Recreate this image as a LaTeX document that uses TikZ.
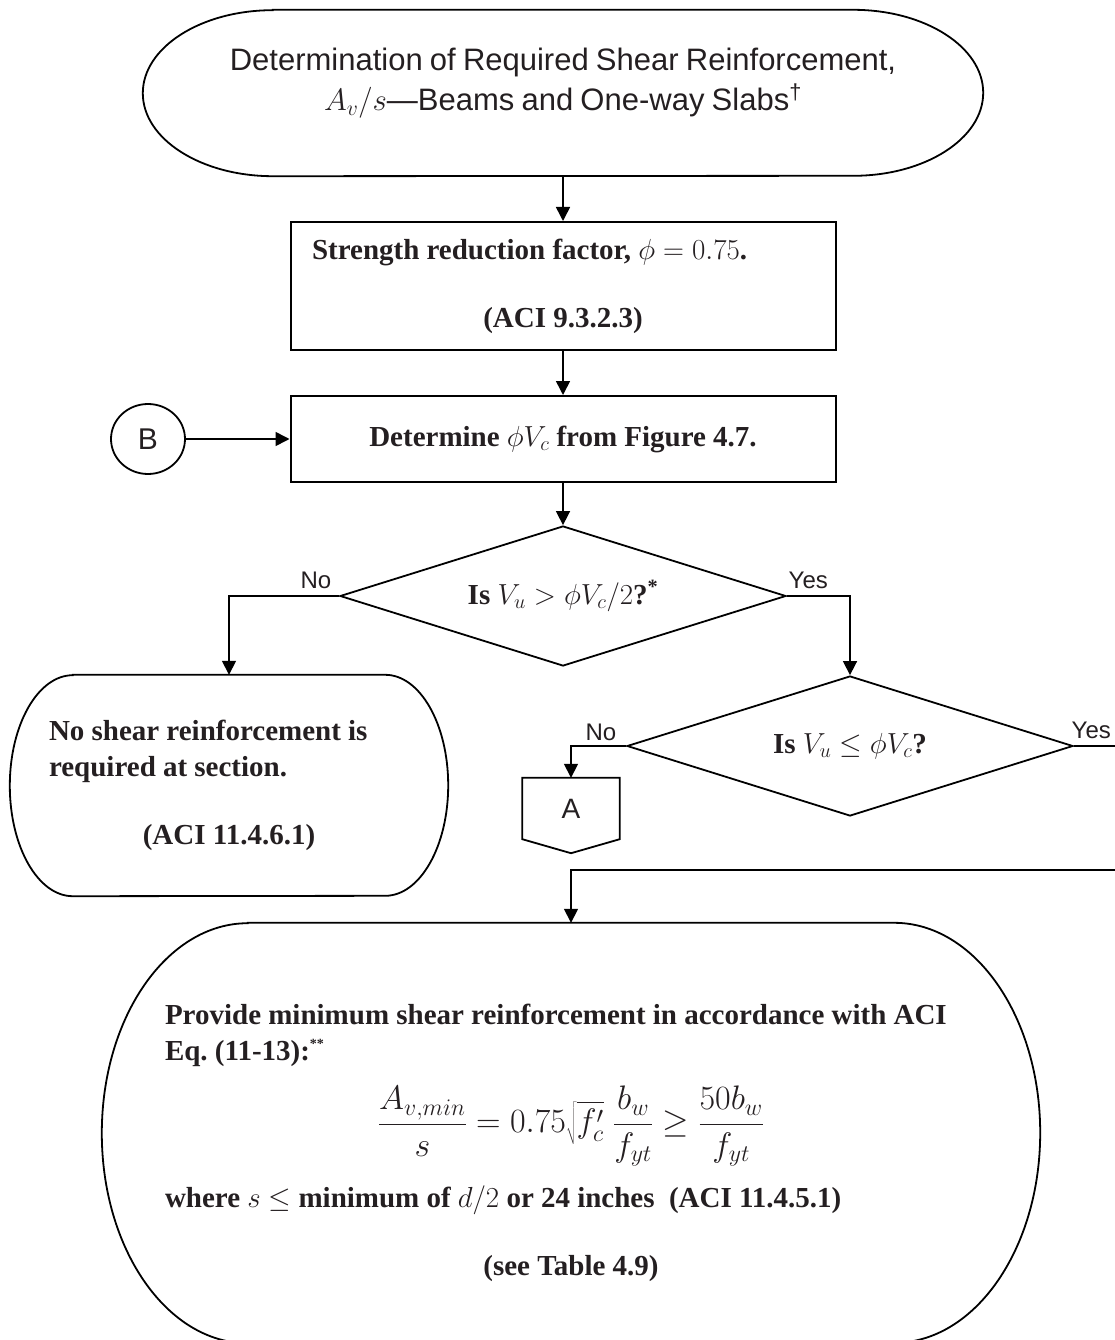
\RequirePackage{fix-cm}
\documentclass[tikz,border=0pt]{standalone}
\usepackage{fontspec}
\setmainfont{Liberation Serif}
\setsansfont{Liberation Sans}
\usetikzlibrary{positioning,arrows.meta,shapes.geometric}
\definecolor{inkcolor}{rgb}{0.14,0.12,0.13}
\tikzset{
  box/.style={draw, line width=2pt, minimum width=545pt, inner sep=0pt, font=\fontsize{29}{35}\selectfont\bfseries, text=inkcolor,
    execute at begin node={\frenchspacing\spaceskip=7.2pt\relax}},
  term/.style={inner sep=0pt, font=\fontsize{29}{36}\selectfont\bfseries, text=inkcolor,
    execute at begin node={\frenchspacing\spaceskip=7.2pt\relax}},
  outline/.style={line width=1.8pt},
  dec/.style={draw, diamond, aspect=3.2, line width=1.8pt, minimum width=446pt, minimum height=140pt, inner sep=0pt, font=\fontsize{29}{35}\selectfont\bfseries, text=inkcolor},
  conn/.style={draw, ellipse, line width=1.8pt, minimum width=74pt, minimum height=70pt, inner sep=0pt, font=\sffamily\fontsize{30}{36}\selectfont, text=inkcolor},
  offpg/.style={minimum width=97pt, minimum height=61pt, inner sep=0pt, font=\sffamily\fontsize{28}{34}\selectfont, text=inkcolor},
  lbl/.style={inner sep=0pt, font=\sffamily\fontsize{24}{28}\selectfont, text=inkcolor},
  flow/.style={-{Triangle[length=14pt,width=14pt]}, line width=1.6pt},
}
\newcommand\termpath[3]{\draw[outline] ([xshift=#2pt]#1.north west) -- ([xshift=-#2pt]#1.north east)
  arc[start angle=90, end angle=-90, x radius=#2pt, y radius=#3pt] -- ([xshift=#2pt]#1.south west)
  arc[start angle=270, end angle=90, x radius=#2pt, y radius=#3pt] -- cycle;}
\newcommand\midline[1]{\makebox[\hsize]{#1}}

\begin{document}
\begin{tikzpicture}[x=1pt, y=1pt]
\useasboundingbox (0,0) rectangle (1115,-1340);
\node[term, minimum width=840pt, minimum height=166pt, align=center, font=\sffamily\fontsize{31}{40}\selectfont\mdseries] (title) at (563,-93)
  {Determination of Required Shear Reinforcement,\\ $A_v/s$---Beams and One-way Slabs\textsuperscript{†}\rule[-27pt]{0pt}{27pt}};
\termpath{title}{130}{83}
\node[box, minimum height=128pt, text width=502pt, align=left] (phi) at (563,-286)
  {Strength reduction factor, $\phi = 0.75$.\\[33pt]\midline{(ACI 9.3.2.3)}};
\node[box, minimum height=86pt] (detvc) at (563,-439) {Determine $\phi V_c$ from Figure 4.7.};
\node[conn] (conB) at (148,-439) {B};
\node[dec] (half) at (563,-596) {Is $V_u > \phi V_c/2$?\textsuperscript{*}};
\node[dec] (full) at (850,-746) {Is $V_u \leq \phi V_c$?};
\node[term, minimum width=438pt, minimum height=221pt, text width=360pt, align=left] (nosh) at (229,-785.5)
  {No shear reinforcement is\\ required at section.\\[32pt]\midline{(ACI 11.4.6.1)}};
\termpath{nosh}{63}{110.5}
\node[offpg] (conA) at (571,-808.5) {A};
\draw[outline] (conA.north west) -- (conA.north east) -- (conA.south east) -- ([yshift=-14pt]conA.south) -- (conA.south west) -- cycle;
\node[term, minimum width=938pt, minimum height=420pt, text width=812pt, align=left] (prov) at (571,-1133)
  {\rule{0pt}{40pt}Provide minimum shear reinforcement in accordance with ACI\\
   Eq. (11-13):\raisebox{12pt}{\fontsize{14}{14}\selectfont **}\\[19pt]
   \midline{\fontsize{34}{40}\selectfont$\displaystyle\frac{A_{v,min}}{s} = 0.75\sqrt{f'_c}\;\frac{b_w}{f_{yt}} \geq \frac{50b_w}{f_{yt}}$}\\[19pt]
   where $s \leq$ minimum of $d/2$ or 24 inches\ \ (ACI 11.4.5.1)\\[32pt]
   \midline{(see Table 4.9)}};
\termpath{prov}{146}{210}
\coordinate (offpage) at (1140,-870);
\draw[flow] (title) -- (phi);
\draw[flow] (phi) -- (detvc);
\draw[flow] (conB) -- (detvc);
\draw[flow] (detvc) -- (half);
\draw[flow] (half.west) node[lbl, anchor=base east, xshift=-7pt, yshift=8pt] (no1) {No} -| (nosh.north);
\draw[flow] (half.east) node[lbl, anchor=base west, xshift=1pt, yshift=8pt] (yes1) {Yes} -| (full.north);
\draw[flow] (full.west) node[lbl, anchor=base east, xshift=-9pt, yshift=6pt] (no2) {No} -| (conA.north);
\draw[flow] (full.east) node[lbl, anchor=base west, xshift=-3pt, yshift=8pt] (yes2) {Yes} -| (offpage) -| (prov.north);
\end{tikzpicture}
\end{document}
